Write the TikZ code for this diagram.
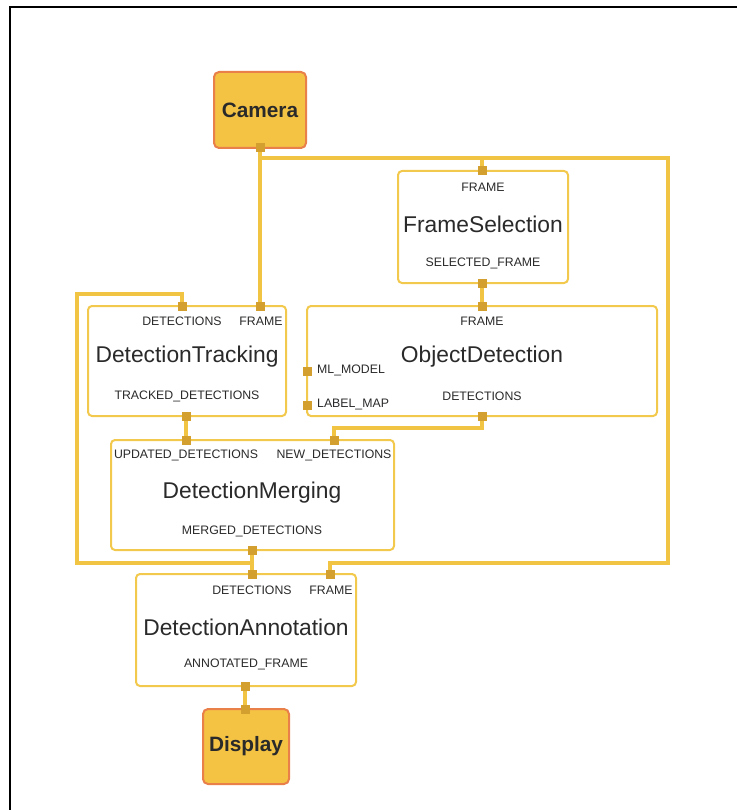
\documentclass[tikz,border=0pt]{standalone}
\usepackage{fontspec}
\setmainfont{Liberation Sans}
\definecolor{wire}{HTML}{F2C443}
\definecolor{portc}{HTML}{D3A030}
\definecolor{boxedge}{HTML}{F2C94C}
\definecolor{srcfill}{HTML}{F4C344}
\definecolor{srcedge}{HTML}{E9804A}
\definecolor{txt}{HTML}{2A2A2A}
\begin{document}
\begin{tikzpicture}[x=1pt,y=-1pt,
  calc box/.style={draw=boxedge,line width=2,rounded corners=4,fill=white,inner sep=0},
  srcbox/.style={draw=srcedge,line width=2,rounded corners=5,fill=srcfill,inner sep=0,
     font=\fontsize{20.8}{23}\selectfont\bfseries,text=txt},
  title/.style={font=\fontsize{22.8}{25}\selectfont,text=txt,inner sep=0},
  plabel/.style={font=\fontsize{12.3}{14}\selectfont,text=txt,inner sep=0},
  port/.style={fill=portc,minimum size=9,inner sep=0},
  wireline/.style={draw=wire,line width=4}]
\useasboundingbox (0,0) rectangle (737,810);
\fill[white] (0,0) rectangle (737,810);
\draw[line width=2.5] (10,810) -- (10,7) -- (737,7);

% boxes
\node[srcbox,minimum width=92,minimum height=76] (cam) at (260,110) {Camera};
\node[calc box,minimum width=170,minimum height=112] (fs) at (483,227) {};
\node[calc box,minimum width=198,minimum height=110] (dt) at (187,361) {};
\node[calc box,minimum width=350,minimum height=110] (od) at (482,361) {};
\node[calc box,minimum width=283,minimum height=110] (dm) at (252.5,495) {};
\node[calc box,minimum width=220,minimum height=112] (da) at (246,630) {};
\node[srcbox,minimum width=86,minimum height=75] (disp) at (246,746.5) {Display};

% texts
\node[plabel] (fsT1) at (483,187) {FRAME};
\node[title] (fsT) at (483,224) {FrameSelection};
\node[plabel] (fsT2) at (483,263) {SELECTED\_FRAME};

\node[plabel] (dtT1) at (182,321) {DETECTIONS};
\node[plabel] (dtT2) at (261,321) {FRAME};
\node[title] (dtT) at (187,357) {DetectionTracking};
\node[plabel] (dtT3) at (187,396) {TRACKED\_DETECTIONS};

\node[plabel] (odT1) at (482,321) {FRAME};
\node[title] (odT) at (482,357) {ObjectDetection};
\node[plabel,anchor=west] (odT2) at (317,370) {ML\_MODEL};
\node[plabel,anchor=west] (odT3) at (317,404) {LABEL\_MAP};
\node[plabel] (odT4) at (482,396) {DETECTIONS};

\node[plabel] (dmT1) at (186,455) {UPDATED\_DETECTIONS};
\node[plabel] (dmT2) at (334,455) {NEW\_DETECTIONS};
\node[title] (dmT) at (252,493) {DetectionMerging};
\node[plabel] (dmT3) at (252,531) {MERGED\_DETECTIONS};

\node[plabel] (daT1) at (252,590) {DETECTIONS};
\node[plabel] (daT2) at (331,590) {FRAME};
\node[title] (daT) at (246,627) {DetectionAnnotation};
\node[plabel] (daT3) at (246,664) {ANNOTATED\_FRAME};

% corner coordinates
\coordinate (rt) at (668,158);
\coordinate (rb) at (668,563);
\coordinate (lb) at (77,563);
\coordinate (lt) at (77,294);

% port positions
\coordinate (camOutP) at (260,148);
\coordinate (fsInP) at (482,171);
\coordinate (fsOutP) at (482,283);
\coordinate (dtDetP) at (182,306);
\coordinate (dtFrameP) at (260,306);
\coordinate (dtOutP) at (186,416);
\coordinate (odFrameP) at (482,306);
\coordinate (odMLP) at (307,371);
\coordinate (odLMP) at (307,405);
\coordinate (odOutP) at (482,416);
\coordinate (dmUpdP) at (186,440);
\coordinate (dmNewP) at (334,440);
\coordinate (dmOutP) at (252,550);
\coordinate (daDetP) at (252,574);
\coordinate (daFrameP) at (330,574);
\coordinate (daOutP) at (245,686);
\coordinate (dispInP) at (245,709);

% connectors
\draw[wireline] (camOutP) -- (dtFrameP);
\draw[wireline] (camOutP) |- (rt) -- (rb) -| (daFrameP);
\draw[wireline] (camOutP |- rt) -| (fsInP);
\draw[wireline] (fsOutP) -- (odFrameP);
\draw[wireline] (dtOutP) -- (dmUpdP);
\draw[wireline] (odOutP) -- ++(0,12) -| (dmNewP);
\draw[wireline] (dmOutP) -- (daDetP);
\draw[wireline] (dmOutP |- lb) -- (lb) -- (lt) -| (dtDetP);
\draw[wireline] (daOutP) -- (dispInP);

% ports
\foreach \p in {camOutP,fsInP,fsOutP,dtDetP,dtFrameP,dtOutP,odFrameP,odMLP,odLMP,odOutP,dmUpdP,dmNewP,dmOutP,daDetP,daFrameP,daOutP,dispInP}
  \node[port] (\p-sq) at (\p) {};
\end{tikzpicture}
\end{document}
